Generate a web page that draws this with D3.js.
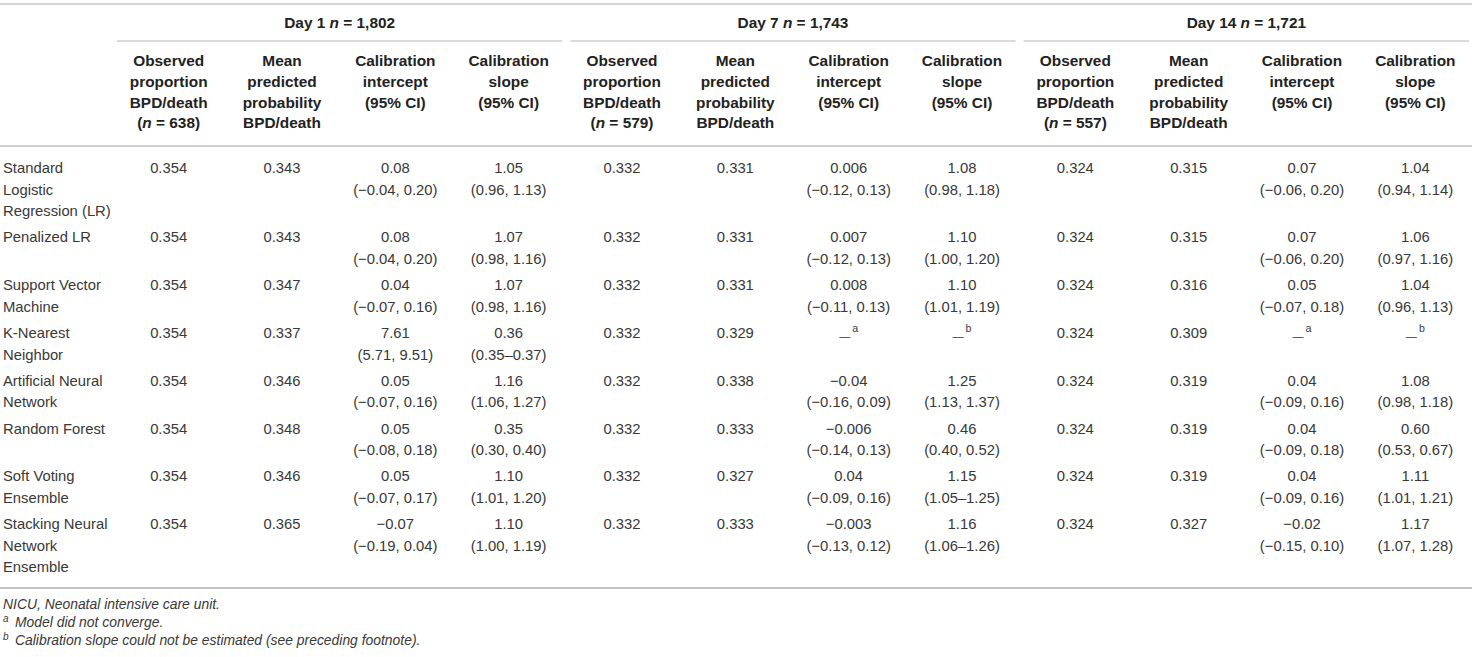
<!DOCTYPE html>
<html>
<head>
<meta charset="utf-8">
<script src="https://cdn.jsdelivr.net/npm/d3@7"></script>
<style>
  html, body { margin: 0; padding: 0; background: #fff; }
  svg { display: block; }
  text { font-family: "Liberation Sans", Arial, Helvetica, sans-serif; }
</style>
</head>
<body>
<svg id="chart" width="1474" height="657"></svg>
<script>
// ---------------- DATA ----------------
const days = ["Day 1", "Day 7", "Day 14"];
const dayN = ["1,802", "1,743", "1,721"];
const observedN = ["638", "579", "557"];

const models = [
  ["Standard", "Logistic", "Regression (LR)"],
  ["Penalized LR"],
  ["Support Vector", "Machine"],
  ["K-Nearest", "Neighbor"],
  ["Artificial Neural", "Network"],
  ["Random Forest"],
  ["Soft Voting", "Ensemble"],
  ["Stacking Neural", "Network", "Ensemble"]
];

const observedDay1 = ["0.354","0.354","0.354","0.354","0.354","0.354","0.354","0.354"];
const observedDay7 = ["0.332","0.332","0.332","0.332","0.332","0.332","0.332","0.332"];
const observedDay14 = ["0.324","0.324","0.324","0.324","0.324","0.324","0.324","0.324"];

const meanDay1 = ["0.343","0.343","0.347","0.337","0.346","0.348","0.346","0.365"];
const meanDay7 = ["0.331","0.331","0.331","0.329","0.338","0.333","0.327","0.333"];
const meanDay14 = ["0.315","0.315","0.316","0.309","0.319","0.319","0.319","0.327"];

// [estimate, CI] ; "—|a" = dash with footnote mark
const interceptDay1 = [["0.08","(−0.04, 0.20)"],["0.08","(−0.04, 0.20)"],["0.04","(−0.07, 0.16)"],["7.61","(5.71, 9.51)"],["0.05","(−0.07, 0.16)"],["0.05","(−0.08, 0.18)"],["0.05","(−0.07, 0.17)"],["−0.07","(−0.19, 0.04)"]];
const slopeDay1 = [["1.05","(0.96, 1.13)"],["1.07","(0.98, 1.16)"],["1.07","(0.98, 1.16)"],["0.36","(0.35–0.37)"],["1.16","(1.06, 1.27)"],["0.35","(0.30, 0.40)"],["1.10","(1.01, 1.20)"],["1.10","(1.00, 1.19)"]];
const interceptDay7 = [["0.006","(−0.12, 0.13)"],["0.007","(−0.12, 0.13)"],["0.008","(−0.11, 0.13)"],["—|a",""],["−0.04","(−0.16, 0.09)"],["−0.006","(−0.14, 0.13)"],["0.04","(−0.09, 0.16)"],["−0.003","(−0.13, 0.12)"]];
const slopeDay7 = [["1.08","(0.98, 1.18)"],["1.10","(1.00, 1.20)"],["1.10","(1.01, 1.19)"],["—|b",""],["1.25","(1.13, 1.37)"],["0.46","(0.40, 0.52)"],["1.15","(1.05–1.25)"],["1.16","(1.06–1.26)"]];
const interceptDay14 = [["0.07","(−0.06, 0.20)"],["0.07","(−0.06, 0.20)"],["0.05","(−0.07, 0.18)"],["—|a",""],["0.04","(−0.09, 0.16)"],["0.04","(−0.09, 0.18)"],["0.04","(−0.09, 0.16)"],["−0.02","(−0.15, 0.10)"]];
const slopeDay14 = [["1.04","(0.94, 1.14)"],["1.06","(0.97, 1.16)"],["1.04","(0.96, 1.13)"],["—|b",""],["1.08","(0.98, 1.18)"],["0.60","(0.53, 0.67)"],["1.11","(1.01, 1.21)"],["1.17","(1.07, 1.28)"]];

const headerCols = [
  ["Observed", "proportion", "BPD/death", "(n = N)"],
  ["Mean", "predicted", "probability", "BPD/death"],
  ["Calibration", "intercept", "(95% CI)"],
  ["Calibration", "slope", "(95% CI)"]
];

const footnotes = [
  ["", "NICU, Neonatal intensive care unit."],
  ["a", "Model did not converge."],
  ["b", "Calibration slope could not be estimated (see preceding footnote)."]
];

// ---------------- LAYOUT ----------------
const svg = d3.select("#chart");
const textColor = "#383838";
const headColor = "#222";
const bodyFont = 14.8, headFont = 15.4, footFont = 13.9;

const dayData = [
  [observedDay1, meanDay1, interceptDay1, slopeDay1],
  [observedDay7, meanDay7, interceptDay7, slopeDay7],
  [observedDay14, meanDay14, interceptDay14, slopeDay14]
];

const x = d3.scaleBand().domain(d3.range(12)).range([112, 1472]);
const cx = i => x(i) + x.bandwidth() / 2;

function rule(x1, x2, y, color, w) {
  svg.append("line").attr("x1", x1).attr("x2", x2).attr("y1", y).attr("y2", y)
    .attr("stroke", color).attr("stroke-width", w);
}
rule(0, 1472, 4, "#c4c4c4", 1.6);
rule(0, 1472, 146, "#cfcfcf", 2);
rule(0, 1472, 588, "#c4c4c4", 2);

// baseline offset from a line's visual centre
const base = fs => fs * 0.35;

// Group headers
days.forEach((d, g) => {
  const x0 = x(g * 4), x1 = x(g * 4 + 3) + x.bandwidth();
  rule(x0 + 5, x1 - 3, 41, "#b5b5b5", 1.1);
  const t = svg.append("text").attr("x", (x0 + x1) / 2 + 1).attr("y", 23 + base(headFont))
    .attr("text-anchor", "middle").attr("font-weight", "bold").attr("font-size", headFont).attr("fill", headColor);
  t.append("tspan").text(d + " ");
  t.append("tspan").attr("font-style", "italic").text("n");
  t.append("tspan").text(" = " + dayN[g]);

  headerCols.forEach((lines, c) => {
    const col = g * 4 + c;
    lines.forEach((ln, k) => {
      const tt = svg.append("text").attr("x", cx(col)).attr("y", 61 + k * 20.7 + base(headFont))
        .attr("text-anchor", "middle").attr("font-weight", "bold").attr("font-size", headFont).attr("fill", headColor);
      if (ln === "(n = N)") {
        tt.append("tspan").text("(");
        tt.append("tspan").attr("font-style", "italic").text("n");
        tt.append("tspan").text(" = " + observedN[g] + ")");
      } else {
        tt.text(ln);
      }
    });
  });
});

// Body rows
const lineH = 21.5, rowGap = 4.8;
let yStart = 168;
models.forEach((label, r) => {
  const nLines = Math.max(label.length, 2);
  label.forEach((ln, k) => {
    svg.append("text").attr("x", 3).attr("y", yStart + k * lineH + base(bodyFont))
      .attr("font-size", bodyFont).attr("fill", textColor).text(ln);
  });
  dayData.forEach((cols, g) => {
    cols.forEach((arr, c) => {
      const col = g * 4 + c;
      const v = arr[r];
      const vals = Array.isArray(v) ? v : [v];
      vals.forEach((s, k) => {
        if (!s) return;
        const yb = yStart + k * lineH + base(bodyFont);
        const t = svg.append("text").attr("x", cx(col)).attr("y", yb)
          .attr("text-anchor", "middle").attr("font-size", bodyFont).attr("fill", textColor);
        if (s.indexOf("|") >= 0) {
          const [dash, sup] = s.split("|");
          t.append("tspan").attr("font-size", bodyFont * 0.75).attr("dy", 1.5).text(dash);
          t.append("tspan").attr("font-size", bodyFont * 0.72).attr("dx", 2).attr("dy", -7.5).text(sup);
        } else {
          t.text(s);
        }
      });
    });
  });
  yStart += nLines * lineH + rowGap;
});

// Footnotes
footnotes.forEach((f, i) => {
  const yb = 604 + i * 18.3 + base(footFont);
  if (f[0]) {
    svg.append("text").attr("x", 3).attr("y", yb - 5)
      .attr("font-size", footFont * 0.72).attr("font-style", "italic").attr("fill", textColor).text(f[0]);
    svg.append("text").attr("x", 15).attr("y", yb)
      .attr("font-size", footFont).attr("font-style", "italic").attr("fill", textColor).text(f[1]);
  } else {
    svg.append("text").attr("x", 3).attr("y", yb)
      .attr("font-size", footFont).attr("font-style", "italic").attr("fill", textColor).text(f[1]);
  }
});
</script>
</body>
</html>
